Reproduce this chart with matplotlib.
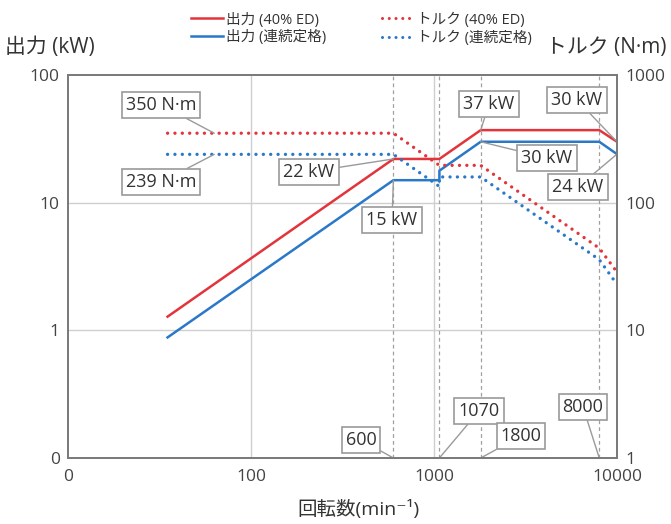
import matplotlib
matplotlib.use("Agg")
import matplotlib.pyplot as plt
from matplotlib.lines import Line2D

plt.rcParams['font.family'] = ['Open Sans', 'Noto Sans CJK JP', 'DejaVu Sans']

# Motor characteristics: speed (min^-1), output (kW), torque (N·m)
speed_40 = [35, 600, 1070, 1800, 8000, 10000]
power_40 = [1.28, 22, 22, 37, 37, 30]
torque_40 = [350, 350, 196, 196, 44, 28.6]

speed_cont = [35, 600, 1070, 1070, 1800, 8000, 10000]
power_cont = [0.88, 15, 15, 17.8, 30, 30, 24]
torque_cont = [239, 239, 134, 159, 159, 35.8, 22.9]

marker_speeds = [600, 1070, 1800, 8000]

x_ticks = [10, 100, 1000, 10000]
x_ticklabels = ["0", "100", "1000", "10000"]
yl_ticks = [0.1, 1, 10, 100]
yl_ticklabels = ["0", "1", "10", "100"]
yr_ticks = [1, 10, 100, 1000]
yr_ticklabels = ["1", "10", "100", "1000"]

RED = '#e2343a'
BLUE = '#2a78c8'
GRID = '#cfcfcf'
SPINE = '#7a7a7a'
TXT = '#333333'
BOXEDGE = '#9a9a9a'
DOTS = (0, (0.01, 2.2))

W, H = 671, 524
fig = plt.figure(figsize=(W / 100, H / 100), dpi=100)


def fx(px):
    return px / W


def fy(py):
    return 1 - py / H


ax = fig.add_axes([fx(68), fy(458), fx(617) - fx(68), fy(75) - fy(458)])
ax.set_xscale('log')
ax.set_yscale('log')
ax.set_xlim(10, 10000)
ax.set_ylim(0.1, 100)

ax2 = ax.twinx()
ax2.set_yscale('log')
ax2.set_ylim(1, 1000)

# grid lines
for v in [1, 10]:
    ax.axhline(v, color=GRID, lw=1.0, zorder=0)
for v in [100, 1000]:
    ax.axvline(v, color=GRID, lw=1.0, zorder=0)
for s in marker_speeds:
    ax.axvline(s, color='#a0a0a0', lw=0.9, ls=(0, (3, 2.5)), zorder=0.5)

# output curves
ax.plot(speed_40, power_40, color=RED, lw=1.8, zorder=3)
ax.plot(speed_cont, power_cont, color=BLUE, lw=1.8, zorder=3)

# torque curves
ax2.plot(speed_40, torque_40, color=RED, lw=2.4, ls=DOTS,
         dash_capstyle='round', zorder=3)
ax2.plot(speed_cont, torque_cont, color=BLUE, lw=2.4, ls=DOTS,
         dash_capstyle='round', zorder=3)

# ticks and spines
ax.set_xticks(x_ticks)
ax.set_xticklabels(x_ticklabels)
ax.set_yticks(yl_ticks)
ax.set_yticklabels(yl_ticklabels)
ax2.set_yticks(yr_ticks)
ax2.set_yticklabels(yr_ticklabels)
for a in (ax, ax2):
    a.minorticks_off()
    a.tick_params(length=0, labelsize=12.5, labelcolor='#444444', pad=6)
    for sp in a.spines.values():
        sp.set_color(SPINE)
        sp.set_linewidth(1.3)
ax.tick_params(axis='x', pad=8)

bbox = dict(boxstyle='square,pad=0.22', fc='white', ec=BOXEDGE, lw=1.2)
leader = dict(arrowstyle='-', color='#9a9a9a', lw=1.0, shrinkA=0, shrinkB=0)


def label(axis, text, xy, cx, cy):
    axis.annotate(text, xy=xy, xycoords='data',
                  xytext=(fx(cx), fy(cy)), textcoords='figure fraction',
                  ha='center', va='center', fontsize=13, color=TXT,
                  bbox=bbox, arrowprops=leader, zorder=5)


# torque labels
label(ax2, "350 N·m", (63, torque_40[0]), 161, 105)
label(ax2, "239 N·m", (63, torque_cont[0]), 161, 182)

# output labels
label(ax, "22 kW", (speed_40[1], power_40[1]), 309, 172)
label(ax, "15 kW", (speed_cont[1], power_cont[1]), 392, 220)
label(ax, "37 kW", (speed_40[3], power_40[3]), 489, 104)
label(ax, "30 kW", (speed_40[5], power_40[5]), 577, 100)
label(ax, "30 kW", (speed_cont[4], power_cont[4]), 547, 158)
label(ax, "24 kW", (speed_cont[6], power_cont[6]), 578, 187)

# speed labels
label(ax, "600", (marker_speeds[0], 0.1), 361, 440)
label(ax, "1070", (marker_speeds[1], 0.1), 479, 411)
label(ax, "1800", (marker_speeds[2], 0.1), 521, 436)
label(ax, "8000", (marker_speeds[3], 0.1), 583, 407)

# axis titles
fig.text(fx(5), fy(47), "出力 (kW)", fontsize=15, color=TXT, ha='left', va='center')
fig.text(fx(666), fy(47), "トルク (N·m)", fontsize=15, color=TXT, ha='right', va='center')
fig.text(fx(358), fy(510), "回転数(min⁻¹)", fontsize=14, color=TXT, ha='center', va='center')

# legend
handles = [
    Line2D([], [], color=RED, lw=1.8),
    Line2D([], [], color=BLUE, lw=1.8),
    Line2D([], [], color=RED, lw=2.2, ls=DOTS, dash_capstyle='round'),
    Line2D([], [], color=BLUE, lw=2.2, ls=DOTS, dash_capstyle='round'),
]
labels = ["出力 (40% ED)", "出力 (連続定格)", "トルク (40% ED)", "トルク (連続定格)"]
fig.legend(handles, labels, ncol=2, loc='center left', bbox_to_anchor=(fx(178), fy(29)),
           frameon=False, fontsize=10.5, handlelength=2.2, handletextpad=0.2,
           columnspacing=3.8, labelspacing=0.2, labelcolor=TXT)

fig.savefig("out.png", dpi=100)
